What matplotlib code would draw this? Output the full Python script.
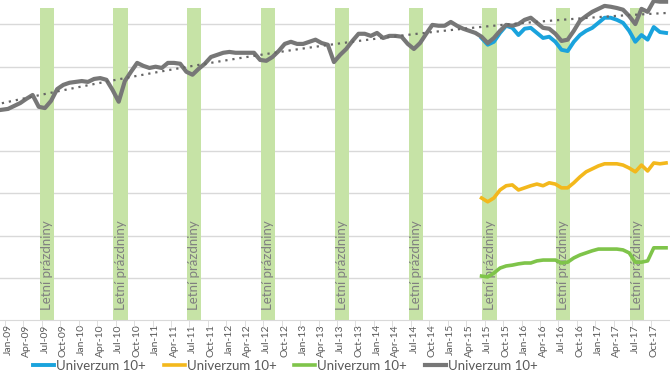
import numpy as np
import pandas as pd
import matplotlib.pyplot as plt

plt.rcParams["font.family"] = ["Lato", "DejaVu Sans"]

# monthly values, Dec-08 .. Dec-17 (grey series)
months = pd.date_range("2008-12-01", "2017-12-01", freq="MS")
gray = [4.98, 5.00, 5.07, 5.14, 5.24, 5.33, 5.05, 5.02, 5.19, 5.47,
        5.57, 5.62, 5.64, 5.66, 5.64, 5.71, 5.73, 5.69, 5.45, 5.17,
        5.66, 5.88, 6.09, 6.02, 5.97, 6.00, 5.97, 6.09, 6.09, 6.07,
        5.88, 5.81, 5.95, 6.07, 6.23, 6.28, 6.33, 6.35, 6.33, 6.33,
        6.33, 6.33, 6.16, 6.14, 6.23, 6.37, 6.54, 6.59, 6.54, 6.54,
        6.59, 6.64, 6.56, 6.52, 6.11, 6.28, 6.42, 6.61, 6.78, 6.78,
        6.73, 6.80, 6.68, 6.73, 6.73, 6.71, 6.54, 6.42, 6.56, 6.78,
        6.99, 6.97, 6.97, 7.06, 6.97, 6.90, 6.85, 6.80, 6.71, 6.56,
        6.68, 6.85, 6.99, 6.97, 7.01, 7.11, 7.16, 7.04, 6.92, 6.90,
        6.78, 6.61, 6.64, 6.85, 7.09, 7.20, 7.30, 7.37, 7.44, 7.42,
        7.39, 7.35, 7.20, 7.01, 7.37, 7.30, 7.56, 7.54, 7.54]

# Jun-15 .. Dec-17
panel_start = "2015-06-01"
blue = [6.68, 6.52, 6.59, 6.80, 6.97, 6.92, 6.75, 6.90, 6.92, 6.80,
        6.68, 6.71, 6.59, 6.40, 6.37, 6.59, 6.75, 6.85, 6.92, 7.04,
        7.16, 7.16, 7.11, 7.04, 6.85, 6.59, 6.75, 6.64, 6.94, 6.82, 6.80]
yellow = [2.89, 2.80, 2.89, 3.08, 3.18, 3.20, 3.08, 3.13, 3.18, 3.22,
          3.18, 3.25, 3.22, 3.13, 3.13, 3.25, 3.39, 3.51, 3.58, 3.65,
          3.70, 3.70, 3.70, 3.67, 3.60, 3.51, 3.67, 3.53, 3.72, 3.70, 3.72]
green = [1.04, 1.02, 1.11, 1.23, 1.28, 1.30, 1.33, 1.35, 1.35, 1.40,
         1.42, 1.42, 1.42, 1.35, 1.37, 1.47, 1.54, 1.59, 1.64, 1.68,
         1.68, 1.68, 1.68, 1.66, 1.59, 1.37, 1.37, 1.40, 1.71, 1.71, 1.71]

holidays = ["2009-07-01", "2010-07-01", "2011-07-01", "2012-07-01",
            "2013-07-01", "2014-07-01", "2015-07-01", "2016-07-01",
            "2017-07-01"]
holiday_height = 7.39
holiday_label = "Letní prázdniny"
series_label = "Univerzum 10+"

x = np.arange(len(months))
x_panel = np.arange(months.get_loc(pd.Timestamp(panel_start)), len(months))

fig = plt.figure(figsize=(6.7, 3.77), dpi=100)
ax = fig.add_axes([0, 1 - 320 / 377, 1, 320 / 377])

ax.set_xlim(-0.3, 108.64)
ax.set_ylim(0, 7.58)

for yv in range(1, 8):
    ax.axhline(yv, color="#d9d9d9", lw=1, zorder=0)

for h in holidays:
    i = months.get_loc(pd.Timestamp(h))
    ax.bar(i + 0.3, holiday_height, width=2.3, color="#c6e3a6", zorder=1)
    ax.text(i + 0.3, 0.24, holiday_label, rotation=90, ha="center",
            va="bottom", fontsize=9.5, color="#808080", zorder=2)

ax.plot(x_panel, blue, color="#1aa3dd", lw=2.8, label=series_label, zorder=3)
ax.plot(x_panel, yellow, color="#f3b81c", lw=2.6, label=series_label, zorder=3)
ax.plot(x_panel, green, color="#7fc44a", lw=2.6, label=series_label, zorder=3)
ax.plot(x, gray, color="#777777", lw=3.0, label=series_label, zorder=4)

# polynomial trendline of the grey series
coef = np.polyfit(x, gray, 2)
ax.plot(x, np.polyval(coef, x), color="#666666", lw=1.6,
        ls=(0, (1, 2.2)), zorder=5)

for s in ["top", "right", "left"]:
    ax.spines[s].set_visible(False)
ax.spines["bottom"].set_color("#d9d9d9")
ax.set_yticks([])

quarter = [i for i, d in enumerate(months) if d.month in (1, 4, 7, 10)]
ax.set_xticks(quarter)
ax.set_xticklabels([months[i].strftime("%b-%y") for i in quarter],
                   rotation=90, fontsize=7.5, color="#595959")
ax.tick_params(axis="x", length=0, pad=3)
ax.set_xticks([i - 0.5 for i in quarter], minor=True)
ax.tick_params(axis="x", which="minor", length=5, color="#d9d9d9")

fig.legend(loc="center left", bbox_to_anchor=(33 / 670, 1 - 366 / 377),
           ncol=4, frameon=False, fontsize=9.5, handlelength=1.6,
           handletextpad=0.15, columnspacing=1.35, borderpad=0,
           borderaxespad=0, labelcolor="#595959")

fig.savefig("out.png", dpi=100)
